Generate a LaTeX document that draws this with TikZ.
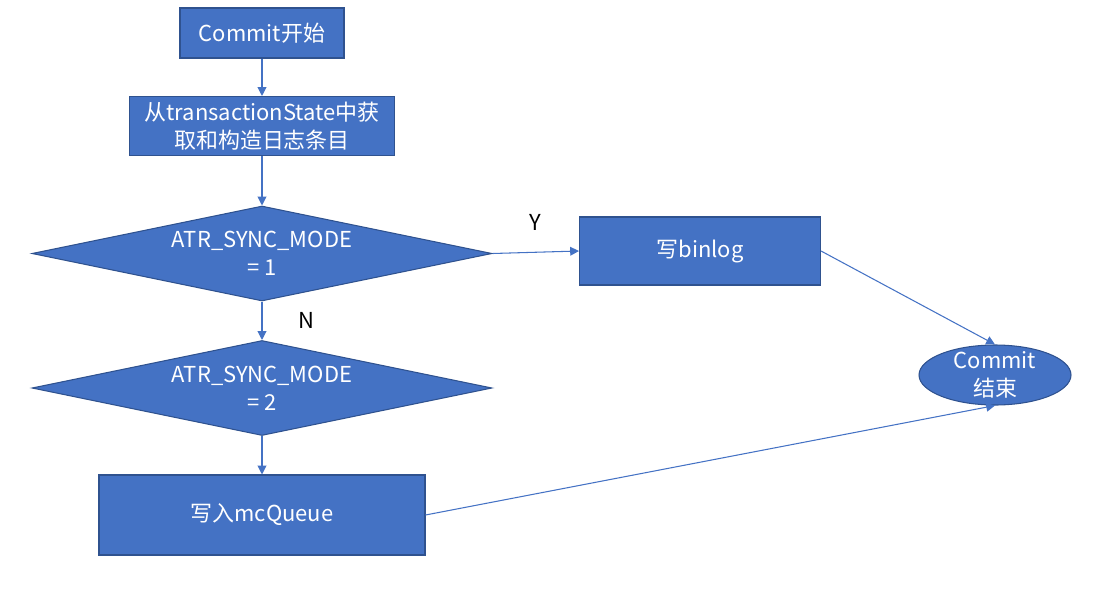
\documentclass[tikz,border=0pt]{standalone}
\usepackage{fontspec}
\setmainfont{Noto Sans CJK SC}
\usetikzlibrary{shapes.geometric, positioning, arrows.meta}
\definecolor{boxblue}{HTML}{4472C4}
\definecolor{boxedge}{HTML}{2F528F}

\begin{document}
\begin{tikzpicture}
	[on grid, auto, line width=0.6pt,
	 font=\fontsize{12.5}{16}\selectfont,
	 blk/.style={rectangle, draw=boxedge, fill=boxblue, text=white, align=center, inner sep=0pt},
	 cond/.style={diamond, draw=boxedge, fill=boxblue, text=white, align=center, inner sep=0pt,
	              aspect=4.84, minimum width=9.2cm, minimum height=1.9cm},
	 term/.style={ellipse, draw=boxedge, fill=boxblue, inner sep=0pt,
	              minimum width=3.04cm, minimum height=1.2cm},
	 flow/.style={boxblue, -{Triangle[length=5pt,width=5pt]}}]
   \useasboundingbox (0,0) rectangle (22.16,-12.12);
   \node[blk, minimum width=3.28cm, minimum height=1cm] (begin) at (5.24,-0.66) {Commit开始};
   \node[blk, minimum width=5.3cm, minimum height=1.18cm] (fetch) [below=1.86cm of begin] {从transactionState中获\\取和构造日志条目};
   \node[cond] (mode1) [below=2.55cm of fetch] {ATR\_SYNC\_MODE\\= 1};
   \node[cond] (mode2) [below=2.69cm of mode1] {ATR\_SYNC\_MODE\\= 2};
   \node[blk, minimum width=6.52cm, minimum height=1.6cm] (queue) [below=2.54cm of mode2] {写入mcQueue};
   \node[blk, minimum width=4.82cm, minimum height=1.36cm] (binlog) [above right=0.05cm and 8.76cm of mode1] {写binlog};
   \node[term, label={[text=white, align=center]center:Commit\\结束}] (finish) [below right=2.48cm and 5.9cm of binlog] {};
       \path[flow]
    (begin) edge (fetch)
    (fetch) edge (mode1)
    (mode1.east) edge node[above=0.3cm, text=black] {Y} (binlog.west)
    (mode1.south) edge node[right=0.6cm, text=black] {N} (mode2.north)
    (mode2.south) edge (queue.north)
    (binlog.east) edge (finish.north)
    (queue.east) edge (finish.south);
\end{tikzpicture}
\end{document}
